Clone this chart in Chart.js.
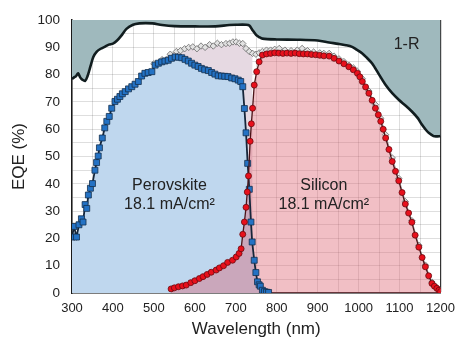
<!DOCTYPE html>
<html>
<head>
<meta charset="utf-8">
<script src="https://cdn.jsdelivr.net/npm/chart.js@4.4.1/dist/chart.umd.min.js"></script>
<style>
  html, body { margin: 0; padding: 0; background: #fff; }
  #wrap { width: 463px; height: 340px; }
</style>
</head>
<body>
<div id="wrap"><canvas id="eqeChart" width="463" height="340"></canvas></div>
<script>
// wavelength (nm) / EQE (%)
const perovskiteNm = [300, 305, 311, 317, 323, 327, 332, 336, 340, 345, 350, 356, 360, 364, 367, 374, 380, 385, 391, 397,
  405, 411, 417, 423, 430, 438, 446, 454, 462, 470, 478, 486, 495, 503, 511, 519, 527, 535, 543, 552,
  560, 568, 576, 584, 592, 600, 608, 616, 624, 633, 641, 649, 657, 665, 673, 681, 690, 698, 706, 712,
  717, 721, 725, 729, 733, 737, 740, 745, 749, 753, 757, 760, 765, 770, 775, 780];
const perovskiteEqe = [20.5, 24.4, 20.5, 25, 27.2, 26, 32.4, 31, 35.9, 38.4, 40.1, 45, 47.8, 50.2, 53.2, 56.8, 60.5, 62.9, 64.7, 67.7,
  70.2, 71, 72, 73, 73.8, 74.8, 75.6, 76.5, 77.5, 79.5, 80.5, 80.8, 81.1, 83.5, 84.2, 84.7, 85, 85.3, 86, 86.5,
  86.4, 86.2, 85.6, 85, 84.2, 83.5, 83, 82.3, 81.8, 81.5, 80.8, 80.2, 79.6, 79.5, 79.4, 79.3, 78.8, 78.5, 78, 77.5,
  75.6, 67.6, 58.7, 47.5, 38, 26, 18.7, 12, 7.5, 4.1, 3, 2.5, 1, 0.5, 0.3, 0.2];

const siliconNm = [542, 550, 560, 570, 579, 590, 600, 611, 620, 630, 640, 652, 660, 670, 680, 692, 701, 708, 713, 717,
  721, 725, 728, 731, 735, 738, 741, 745, 751, 757, 765, 775, 785, 795, 805, 815, 825, 835, 845, 855,
  865, 875, 885, 895, 905, 915, 928, 940, 952, 964, 976, 987, 997, 1003, 1009, 1017, 1025, 1033, 1041, 1048,
  1054, 1060, 1066, 1074, 1082, 1090, 1098, 1106, 1114, 1122, 1130, 1138, 1147, 1155, 1163, 1171, 1179, 1185, 1191, 1196, 1200];
const siliconEqe = [1.5, 1.9, 2.3, 2.6, 2.9, 3.8, 4.5, 5.3, 6, 6.8, 7.6, 8.4, 9.2, 10, 11.2, 12, 13.2, 14.5, 16.2, 21.5,
  26, 31.4, 37, 42.9, 55.6, 62, 67.7, 76.2, 81.1, 84.7, 87.2, 87.6, 87.8, 88, 87.9, 87.8, 87.9, 87.8, 87.9, 87.7,
  87.6, 87.6, 87.4, 87.3, 87.1, 86.9, 86.8, 86, 85, 84, 82.9, 81.8, 80.5, 79.2, 77.5, 75.5, 73.2, 70.6, 67.7, 65.3,
  62.9, 60, 56.8, 52.6, 48.2, 44.6, 41.1, 36.8, 32.6, 29.3, 25.9, 21.2, 16.8, 13, 9.6, 6.3, 3.5, 2.5, 1.7, 1, 0.5];

const sumNm = [500, 520, 540, 555, 565, 575, 585, 595, 605, 615, 625, 636, 645, 655, 665, 676, 685, 693, 701, 709,
  717, 725, 733, 741, 749, 757, 765, 775, 785, 795, 806, 820, 835, 850, 862, 875, 890, 905, 915, 928,
  940, 952, 964, 976, 987, 997, 1009, 1025, 1041, 1054, 1066, 1082, 1098, 1114, 1130, 1147, 1163, 1179, 1191, 1200];
const sumEqe = [84, 85.5, 87.5, 88.5, 88.8, 89.5, 90, 90.2, 89.5, 90.5, 90, 91, 90.5, 91.5, 91, 91.4, 91.5, 92, 92, 91.5,
  91.4, 89.6, 88.5, 87.8, 87.5, 88, 88.5, 89, 89, 89.3, 89.6, 89, 88.8, 89, 89.6, 88.8, 88.3, 88, 87.8, 87.8,
  86.8, 85.8, 84.8, 83.5, 82.5, 81.2, 78.5, 74, 69, 64, 58, 49.5, 42, 33.5, 26.5, 17.5, 10.2, 4, 2, 0.8];

const oneMinusRNm = [300, 305, 310, 315, 320, 325, 332, 338, 345, 352, 360, 370, 380, 390, 400, 410, 420, 433, 449, 465,
  480, 497, 520, 550, 600, 650, 684, 700, 726, 733, 740, 750, 757, 765, 800, 850, 900, 928, 950, 969,
  984, 995, 1009, 1020, 1033, 1050, 1066, 1082, 1098, 1115, 1130, 1145, 1154, 1163, 1171, 1183, 1190, 1200];
const oneMinusR = [78.4, 79, 79.5, 80.5, 79, 78.2, 77.7, 79.5, 83, 86.5, 88.4, 89.5, 90.2, 91, 91.4, 92.5, 94.2, 96.8, 98.3, 98.8,
  98.9, 98.8, 98.2, 97.8, 97.7, 97.7, 98.2, 98.3, 98.3, 98, 96.5, 94.5, 93.8, 93.2, 92.9, 92.8, 92.5, 91.8, 91.3, 90.8,
  90.2, 89.2, 87.8, 86.2, 84.1, 80, 76.2, 73.2, 70.8, 68.6, 66.5, 64, 61.8, 60, 58.7, 57.5, 57.4, 57.5];

const xTickLabels = [300, 400, 500, 600, 700, 800, 900, 1000, 1100, 1200];
const yTickLabels = [0, 10, 20, 30, 40, 50, 60, 70, 80, 90, 100];

function toPoints(xs, ys) {
  return xs.map((x, i) => ({ x: x, y: ys[i] }));
}

// the light shading of the sum only shows above the perovskite curve
const sumShade = toPoints(sumNm, sumEqe).filter(p => p.x <= 745);

const FONT = "'Liberation Sans', Arial, sans-serif";

// text inside the plot
const annotations = {
  id: "annotations",
  afterDatasetsDraw(chart) {
    const { ctx, scales: { x, y } } = chart;
    ctx.save();
    ctx.fillStyle = "#222";
    ctx.textAlign = "center";
    ctx.textBaseline = "middle";
    ctx.font = "16px " + FONT;
    ctx.fillText("Perovskite", x.getPixelForValue(538), y.getPixelForValue(39.3));
    ctx.fillText("18.1 mA/cm²", x.getPixelForValue(538), y.getPixelForValue(32.4));
    ctx.fillText("Silicon", x.getPixelForValue(915), y.getPixelForValue(39.3));
    ctx.fillText("18.1 mA/cm²", x.getPixelForValue(915), y.getPixelForValue(32.4));
    ctx.fillText("1-R", x.getPixelForValue(1117), y.getPixelForValue(91));
    ctx.restore();
  }
};

const gridColor = "rgba(0,0,0,0.13)";

new Chart(document.getElementById("eqeChart"), {
  type: "line",
  data: {
    datasets: [
      {
        label: "Silicon",
        data: toPoints(siliconNm, siliconEqe),
        borderColor: "#4a1418",
        borderWidth: 1.3,
        backgroundColor: "rgba(220,95,110,0.4)",
        fill: "origin",
        pointStyle: "circle",
        pointRadius: 3,
        pointBackgroundColor: "#e8101c",
        pointBorderColor: "#6a0a10",
        pointBorderWidth: 0.8,
        tension: 0
      },
      {
        label: "Perovskite",
        data: toPoints(perovskiteNm, perovskiteEqe),
        borderColor: "#16263a",
        borderWidth: 1.8,
        backgroundColor: "#bfd7ee",
        fill: "origin",
        pointStyle: "rect",
        pointRadius: 4.2,
        pointBackgroundColor: "#2472c4",
        pointBorderColor: "#14304e",
        pointBorderWidth: 0.8,
        tension: 0
      },
      {
        label: "Sum",
        data: toPoints(sumNm, sumEqe),
        borderColor: "#8a8a8a",
        borderWidth: 0.8,
        fill: false,
        pointStyle: "rectRot",
        pointRadius: 3.2,
        pointBackgroundColor: "#e2e2e2",
        pointBorderColor: "#6a6a6a",
        pointBorderWidth: 0.8,
        tension: 0
      },
      {
        label: "Sum shade",
        data: sumShade,
        borderWidth: 0,
        backgroundColor: "#e6d9e2",
        fill: "origin",
        pointRadius: 0,
        tension: 0
      },
      {
        label: "1-R",
        data: toPoints(oneMinusRNm, oneMinusR),
        borderColor: "#111d1f",
        borderWidth: 2.6,
        backgroundColor: "#9fb9bd",
        fill: "end",
        pointRadius: 0,
        tension: 0.3
      }
    ]
  },
  options: {
    responsive: false,
    animation: false,
    devicePixelRatio: 1,
    layout: { padding: { left: 9, right: 21, top: 18, bottom: 0 } },
    plugins: {
      legend: { display: false },
      tooltip: { enabled: false },
      filler: { drawTime: "beforeDatasetsDraw" }
    },
    scales: {
      x: {
        type: "linear",
        min: 300,
        max: 1200,
        z: 1,
        afterFit(scale) { scale.height = 47; },
        border: { color: "#1a1a1a", width: 1.5 },
        grid: {
          drawTicks: false,
          color: ctx => ctx.tick && ctx.tick.value === 1200 ? "#333" : gridColor,
          lineWidth: ctx => ctx.tick && ctx.tick.value === 1200 ? 1.2 : 1
        },
        ticks: {
          stepSize: 50,
          padding: 8,
          color: "#222",
          font: { family: FONT, size: 13 },
          autoSkip: false,
          maxRotation: 0,
          callback: v => xTickLabels.includes(v) ? String(v) : ""
        },
        title: {
          display: true,
          text: "Wavelength (nm)",
          color: "#222",
          font: { family: FONT, size: 17 },
          padding: { top: 3, bottom: 0 }
        }
      },
      y: {
        min: 0,
        max: 100,
        z: 1,
        afterFit(scale) { scale.width = 63; },
        border: { color: "#1a1a1a", width: 1.5 },
        grid: {
          drawTicks: false,
          color: ctx => ctx.tick && ctx.tick.value === 100 ? "#333" : gridColor,
          lineWidth: ctx => ctx.tick && ctx.tick.value === 100 ? 1.2 : 1
        },
        ticks: {
          stepSize: 5,
          padding: 12,
          color: "#222",
          font: { family: FONT, size: 13.5 },
          autoSkip: false,
          callback: v => yTickLabels.includes(v) ? String(v) : ""
        },
        title: {
          display: true,
          text: "EQE (%)",
          color: "#222",
          font: { family: FONT, size: 17 },
          padding: { top: 0, bottom: 4 }
        }
      }
    }
  },
  plugins: [annotations]
});
</script>
</body>
</html>
